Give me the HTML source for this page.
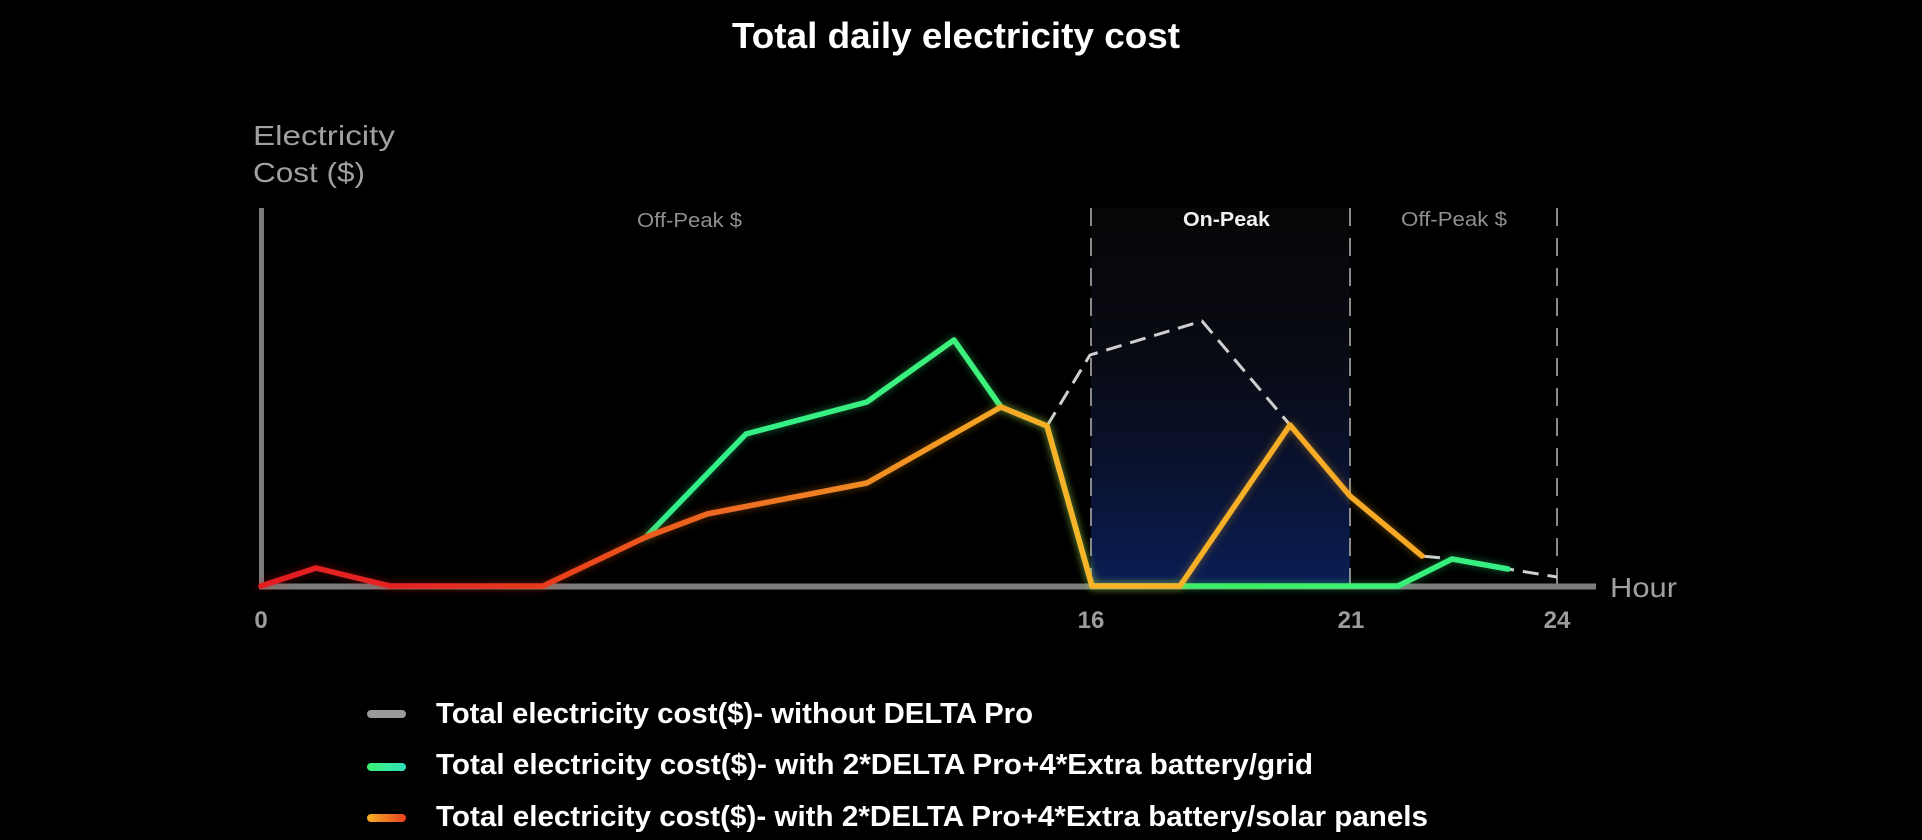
<!DOCTYPE html>
<html>
<head>
<meta charset="utf-8">
<style>
  html, body { margin:0; padding:0; background:#000; }
  body { width:1922px; height:840px; overflow:hidden; }
  svg { display:block; }
  text { font-family: "Liberation Sans", "DejaVu Sans", sans-serif; }
</style>
</head>
<body>
<svg width="1922" height="840" viewBox="0 0 1922 840" xmlns="http://www.w3.org/2000/svg">
  <defs>
    <linearGradient id="peak" x1="0" y1="0" x2="0" y2="1">
      <stop offset="0" stop-color="#060607"/>
      <stop offset="0.4" stop-color="#090b14"/>
      <stop offset="0.7" stop-color="#0a1230"/>
      <stop offset="1" stop-color="#0a1d55"/>
    </linearGradient>
    <linearGradient id="orangeG" gradientUnits="userSpaceOnUse" x1="261" y1="0" x2="1422" y2="0">
      <stop offset="0" stop-color="#e31e24"/>
      <stop offset="0.11" stop-color="#e42222"/>
      <stop offset="0.243" stop-color="#e83a1e"/>
      <stop offset="0.335" stop-color="#ec5a1f"/>
      <stop offset="0.52" stop-color="#f08a22"/>
      <stop offset="0.64" stop-color="#f5a825"/>
      <stop offset="0.70" stop-color="#f7b52a"/>
      <stop offset="1" stop-color="#f5a824"/>
    </linearGradient>
    <linearGradient id="greenG" gradientUnits="userSpaceOnUse" x1="646" y1="0" x2="1508" y2="0">
      <stop offset="0" stop-color="#30ee8c"/>
      <stop offset="0.4" stop-color="#3ef27a"/>
      <stop offset="0.7" stop-color="#3ef062"/>
      <stop offset="1" stop-color="#36ee86"/>
    </linearGradient>
    <linearGradient id="legGreen" x1="0" y1="0" x2="1" y2="0">
      <stop offset="0" stop-color="#3cf070"/>
      <stop offset="1" stop-color="#2fe0c0"/>
    </linearGradient>
    <linearGradient id="legOrange" x1="0" y1="0" x2="1" y2="0">
      <stop offset="0" stop-color="#f5b025"/>
      <stop offset="1" stop-color="#e84020"/>
    </linearGradient>
    <filter id="glow" x="-10%" y="-10%" width="120%" height="120%">
      <feGaussianBlur in="SourceGraphic" stdDeviation="4" result="b"/>
      <feComponentTransfer in="b" result="b2">
        <feFuncA type="linear" slope="0.45"/>
      </feComponentTransfer>
      <feMerge>
        <feMergeNode in="b2"/>
        <feMergeNode in="SourceGraphic"/>
      </feMerge>
    </filter>
  </defs>

  <!-- Title -->
  <text x="732" y="48" font-size="36" font-weight="bold" fill="#ffffff" textLength="448" lengthAdjust="spacingAndGlyphs">Total daily electricity cost</text>

  <!-- Y axis label -->
  <text x="253" y="145" font-size="28" fill="#a0a0a0" textLength="142" lengthAdjust="spacingAndGlyphs">Electricity</text>
  <text x="253" y="182" font-size="28" fill="#a0a0a0" textLength="112" lengthAdjust="spacingAndGlyphs">Cost ($)</text>

  <!-- On-peak shading -->
  <rect x="1091" y="208" width="259" height="378" fill="url(#peak)"/>

  <!-- Period labels -->
  <text x="637" y="227" font-size="20" fill="#8f8f8f" textLength="105" lengthAdjust="spacingAndGlyphs">Off-Peak $</text>
  <text x="1183" y="226" font-size="20" font-weight="bold" fill="#f0f0f0" textLength="87" lengthAdjust="spacingAndGlyphs">On-Peak</text>
  <text x="1401" y="226" font-size="20" fill="#8f8f8f" textLength="106" lengthAdjust="spacingAndGlyphs">Off-Peak $</text>

  <!-- Dashed vertical separators -->
  <g stroke="#8a8a8a" stroke-width="2" stroke-dasharray="18 12">
    <line x1="1091" y1="208" x2="1091" y2="584"/>
    <line x1="1350" y1="208" x2="1350" y2="584"/>
    <line x1="1557" y1="208" x2="1557" y2="584"/>
  </g>

  <!-- Axes -->
  <line x1="261.5" y1="208" x2="261.5" y2="589" stroke="#7b7b7b" stroke-width="5"/>
  <line x1="259" y1="586.5" x2="1596" y2="586.5" stroke="#7b7b7b" stroke-width="6"/>

  <!-- Tick labels -->
  <g font-size="24" font-weight="bold" fill="#9c9c9c" text-anchor="middle">
    <text x="261" y="628">0</text>
    <text x="1091" y="628">16</text>
    <text x="1351" y="628">21</text>
    <text x="1557" y="628">24</text>
  </g>
  <text x="1610" y="597" font-size="28" fill="#a0a0a0" textLength="67" lengthAdjust="spacingAndGlyphs">Hour</text>

  <!-- Gray dashed series (without DELTA Pro) -->
  <polyline points="1047,426 1090,355 1202,321 1290,425 1350,496 1422,556 1452,559 1508,569 1557,577"
            fill="none" stroke="#cfcfcf" stroke-width="3" stroke-dasharray="16 9" stroke-linejoin="round"/>

  <!-- Green series -->
  <polyline filter="url(#glow)" points="646,537 746,434 867,402 954,340 1001,407 1047,426 1092,586 1398,586 1452,559 1508,569"
            fill="none" stroke="url(#greenG)" stroke-width="5.5" stroke-linejoin="round" stroke-linecap="round"/>

  <!-- Orange/red series -->
  <polyline filter="url(#glow)" points="261,586 316,568 390,586 543,586 646,537 707,514 867,483 1001,407 1047,426 1092,586 1180,586 1290,425 1350,496 1422,556"
            fill="none" stroke="url(#orangeG)" stroke-width="5.5" stroke-linejoin="round" stroke-linecap="round"/>

  <!-- Legend -->
  <rect x="367" y="710" width="39" height="8" rx="4" fill="#9a9a9a"/>
  <rect x="367" y="763" width="39" height="8" rx="4" fill="url(#legGreen)"/>
  <rect x="367" y="814" width="39" height="8" rx="4" fill="url(#legOrange)"/>
  <g font-size="29" font-weight="600" fill="#ffffff">
    <text x="436" y="723" textLength="597" lengthAdjust="spacingAndGlyphs">Total electricity cost($)- without DELTA Pro</text>
    <text x="436" y="774" textLength="877" lengthAdjust="spacingAndGlyphs">Total electricity cost($)- with 2*DELTA Pro+4*Extra battery/grid</text>
    <text x="436" y="826" textLength="992" lengthAdjust="spacingAndGlyphs">Total electricity cost($)- with 2*DELTA Pro+4*Extra battery/solar panels</text>
  </g>
</svg>
</body>
</html>
